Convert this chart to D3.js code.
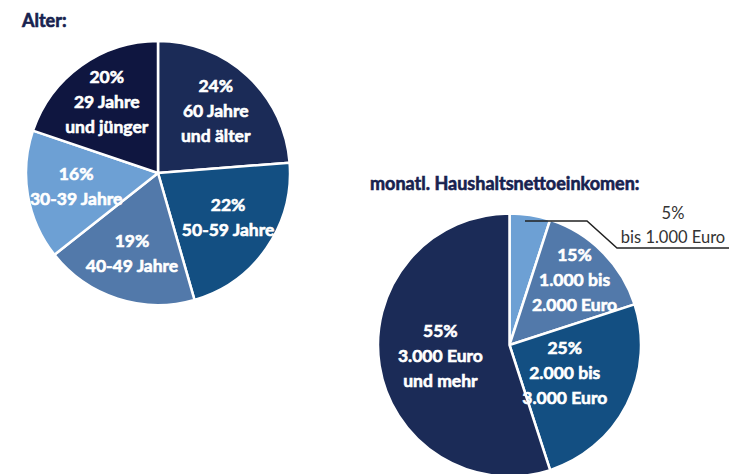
<!DOCTYPE html>
<html>
<head>
<meta charset="utf-8">
<script src="https://cdn.jsdelivr.net/npm/d3@7"></script>
<style>
  body { margin: 0; background: #fff; }
  svg { display: block; }
  text { font-family: Lato, "Open Sans", sans-serif; }
</style>
</head>
<body>
<script>
const w = 729;
const h = 474;

// data
const ageCategories = ["60 Jahre\nund älter", "50-59 Jahre", "40-49 Jahre", "30-39 Jahre", "29 Jahre\nund jünger"];
const ageValues = [24, 22, 19, 16, 20];
const ageColors = ["#1b2b57", "#134f82", "#5279aa", "#6da0d4", "#0f1640"];

const incomeCategories = ["bis 1.000 Euro", "1.000 bis\n2.000 Euro", "2.000 bis\n3.000 Euro", "3.000 Euro\nund mehr"];
const incomeValues = [5, 15, 25, 55];
const incomeColors = ["#6da0d4", "#5279aa", "#134f82", "#1b2b57"];

const svg = d3.select("body")
    .append("svg")
    .attr("width", w)
    .attr("height", h);

const lineH = 25;

function drawPie(cfg) {
    const data = cfg.values.map((v, i) => ({ value: v, label: cfg.categories[i], color: cfg.colors[i] }));
    const pie = d3.pie().value(d => d.value).sort(null);
    const arc = d3.arc().innerRadius(0).outerRadius(cfg.r);
    const arcs = pie(data);

    const g = svg.append("g")
        .attr("transform", `translate(${cfg.cx}, ${cfg.cy})`);

    g.selectAll("path")
        .data(arcs)
        .enter()
        .append("path")
        .attr("d", arc)
        .attr("fill", d => d.data.color)
        .attr("stroke", "#fff")
        .attr("stroke-width", 2.5)
        .attr("stroke-linejoin", "round");

    // labels inside the slices
    arcs.forEach((d, i) => {
        const lr = cfg.labelR[i];
        if (lr == null) return;
        const la = d3.arc().innerRadius(lr).outerRadius(lr);
        const [x, y] = la.centroid(d);
        const lines = [d.data.value + "%"].concat(d.data.label.split("\n"));
        const t = g.append("text")
            .attr("x", x + (cfg.dx[i] || 0))
            .attr("y", y - (lines.length - 1) * lineH / 2 + 6)
            .attr("text-anchor", "middle")
            .attr("fill", "#fff")
            .attr("stroke", "#fff")
            .attr("stroke-width", 0.6)
            .attr("font-size", 17.5)
            .attr("font-weight", 700);
        lines.forEach((l, j) => {
            t.append("tspan")
                .attr("x", x + (cfg.dx[i] || 0))
                .attr("dy", j === 0 ? 0 : lineH)
                .text(l);
        });
    });
    return { g, arcs, arc };
}

// Alter
svg.append("text")
    .attr("x", 22)
    .attr("y", 27)
    .attr("fill", "#17224f")
    .attr("stroke", "#17224f")
    .attr("stroke-width", 0.6)
    .attr("font-size", 18)
    .attr("font-weight", 700)
    .text("Alter:");

drawPie({
    cx: 158, cy: 173, r: 132,
    values: ageValues, categories: ageCategories, colors: ageColors,
    labelR: [85, 78, 85, 80, 88],
    dx: [0, 6, 0, -3, 0]
});

// Einkommen
svg.append("text")
    .attr("x", 370)
    .attr("y", 190)
    .attr("fill", "#17224f")
    .attr("stroke", "#17224f")
    .attr("stroke-width", 0.6)
    .attr("font-size", 18)
    .attr("font-weight", 700)
    .text("monatl. Haushaltsnettoeinkomen:");

const inc = drawPie({
    cx: 509.5, cy: 345, r: 131.5,
    values: incomeValues, categories: incomeCategories, colors: incomeColors,
    labelR: [null, 92, 62, 70],
    dx: [0, 0, 0, 0]
});

// leader line for the small slice
const small = inc.arcs[0];
svg.append("path")
    .attr("d", "M525,221 H587 L617,248 H729")
    .attr("fill", "none")
    .attr("stroke", "#222")
    .attr("stroke-width", 1.5);

const outLabel = svg.append("text")
    .attr("text-anchor", "middle")
    .attr("fill", "#333")
    .attr("font-size", 16.5)
    .attr("font-weight", 400);
outLabel.append("tspan").attr("x", 673).attr("y", 219).text(small.data.value + "%");
outLabel.append("tspan").attr("x", 673).attr("y", 243).text(small.data.label);
</script>
</body>
</html>
